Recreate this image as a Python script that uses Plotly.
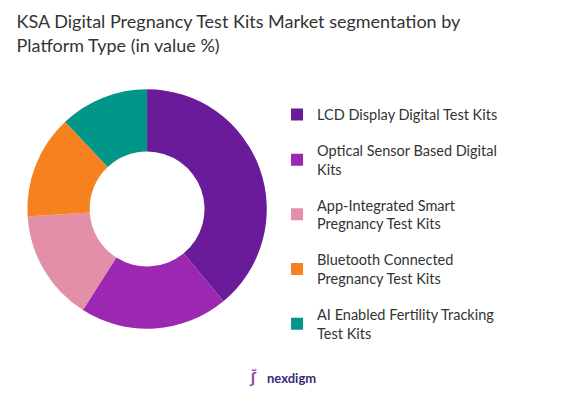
import plotly.graph_objects as go

labels = ["LCD Display Digital Test Kits", "Optical Sensor Based Digital Kits",
          "App-Integrated Smart Pregnancy Test Kits", "Bluetooth Connected Pregnancy Test Kits",
          "AI Enabled Fertility Tracking Test Kits"]
legend_names = ["LCD Display Digital Test Kits", "Optical Sensor Based Digital<br>Kits",
                "App-Integrated Smart<br>Pregnancy Test Kits", "Bluetooth Connected<br>Pregnancy Test Kits",
                "AI Enabled Fertility Tracking<br>Test Kits"]
values = [39, 20, 15, 14, 12]
colors = ["#6a1b9a", "#9c27b0", "#e48fa8", "#f5821f", "#009688"]

fig = go.Figure(go.Pie(
    labels=labels, values=values, hole=0.48, sort=False, direction="clockwise",
    rotation=0, marker=dict(colors=colors), textinfo="none", hoverinfo="label+percent",
    domain=dict(x=[0.034, 0.454], y=[0.2, 0.8]), showlegend=False,
))
# legend entries as separate groups so they can be spaced out
for name, col in zip(legend_names, colors):
    fig.add_trace(go.Scatter(x=[None], y=[None], mode="markers", name=name, legendgroup=name,
                             marker=dict(symbol="square", size=12, color=col)))
fig.update_xaxes(visible=False)
fig.update_yaxes(visible=False)
fig.update_layout(
    width=570, height=402, paper_bgcolor="white", plot_bgcolor="white",
    margin=dict(l=0, r=0, t=0, b=0),
    font=dict(family="Lato, sans-serif", color="#333"),
    title=dict(text="KSA Digital Pregnancy Test Kits Market segmentation by<br>Platform Type (in value %)",
               x=0.015, y=0.95, xanchor="left", yanchor="top", font=dict(size=18, color="#333")),
    legend=dict(x=0.472, y=0.775, xanchor="left", yanchor="top", font=dict(size=14.5, color="#333"),
                tracegroupgap=14, itemsizing="constant"),
    annotations=[dict(text="<b>nexdigm</b>", x=0.45, y=0.055, xref="paper", yref="paper",
                      showarrow=False, xanchor="left", font=dict(size=13, color="#3a2a7a")),
                 dict(text="<b>ʃ\u0306</b>", x=0.43, y=0.055, xref="paper", yref="paper",
                      showarrow=False, xanchor="center", font=dict(size=16, color="#8e3fa8"))],
)
fig.write_html("out.html")
